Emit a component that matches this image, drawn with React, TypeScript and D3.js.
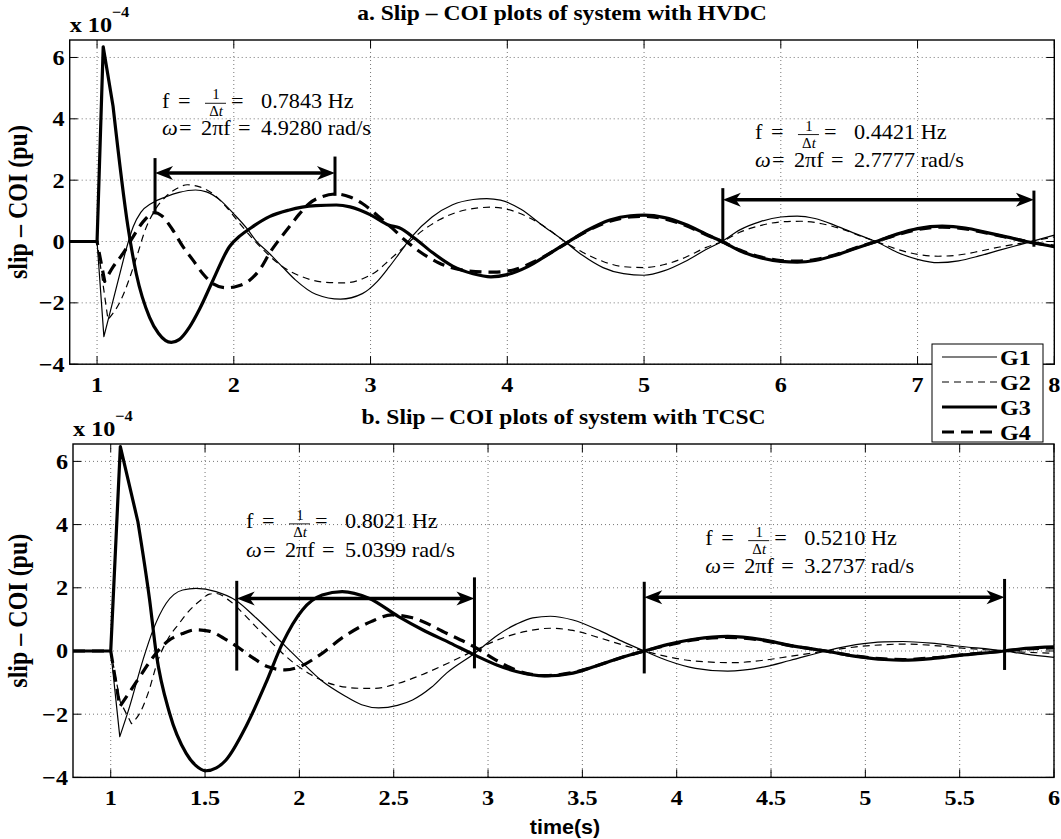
import React from "react";
import * as d3 from "d3";

type Pt = [number, number];

const SERIF = "'Liberation Serif', 'Times New Roman', Times, serif";
const SANS = "'Liberation Sans', Arial, Helvetica, sans-serif";

// ---------- tick values ----------
const hvdcXTicks = [1, 2, 3, 4, 5, 6, 7, 8];
const tcscXTicks = [1, 1.5, 2, 2.5, 3, 3.5, 4, 4.5, 5, 5.5, 6];
const yTicks = [-4, -2, 0, 2, 4, 6];
const seriesNames = ["G1", "G2", "G3", "G4"];

// ---------- a. HVDC (slip - COI, x 1e-4) ----------
const hvdcG1: Pt[] = [[0.8, 0], [1.0, 0], [1.05, -3.1], [1.205, -0.38], [1.265, 0.49], [1.32, 0.95], [1.4, 1.25], [1.5, 1.45], [1.6, 1.6], [1.72, 1.68], [1.8, 1.62], [1.9, 1.35], [2.0, 0.9], [2.1, 0.4], [2.16, 0.04], [2.26, -0.39], [2.35, -0.8], [2.45, -1.25], [2.6, -1.72], [2.78, -1.88], [2.94, -1.7], [3.05, -1.3], [3.136, -0.83], [3.21, -0.39], [3.3, 0.15], [3.45, 0.8], [3.6, 1.2], [3.75, 1.37], [3.85, 1.4], [3.95, 1.35], [4.1, 1.05], [4.25, 0.55], [4.42, 0.0], [4.55, -0.45], [4.7, -0.85], [4.85, -1.05], [5.0, -1.1], [5.15, -0.95], [5.3, -0.65], [5.45, -0.27], [5.57, 0.0], [5.7, 0.38], [5.85, 0.65], [6.0, 0.8], [6.12, 0.83], [6.25, 0.75], [6.4, 0.52], [6.55, 0.25], [6.71, -0.03], [6.85, -0.35], [7.0, -0.58], [7.15, -0.69], [7.3, -0.63], [7.45, -0.47], [7.6, -0.28], [7.75, -0.1], [7.85, 0.02], [8.0, 0.21]];
const hvdcG2: Pt[] = [[0.8, 0], [1.0, 0], [1.08, -2.55], [1.17, -1.95], [1.29, -0.5], [1.35, 0.35], [1.42, 1.0], [1.5, 1.45], [1.58, 1.72], [1.66, 1.85], [1.75, 1.78], [1.85, 1.55], [1.95, 1.1], [2.05, 0.55], [2.2, -0.2], [2.35, -0.8], [2.5, -1.15], [2.65, -1.32], [2.8, -1.35], [2.95, -1.2], [3.05, -0.95], [3.136, -0.61], [3.25, -0.15], [3.35, 0.25], [3.5, 0.7], [3.65, 0.98], [3.8, 1.1], [3.88, 1.12], [4.0, 1.05], [4.15, 0.8], [4.3, 0.4], [4.42, 0.0], [4.55, -0.35], [4.7, -0.65], [4.85, -0.82], [5.0, -0.85], [5.15, -0.75], [5.3, -0.52], [5.45, -0.2], [5.57, 0.0], [5.7, 0.3], [5.85, 0.52], [6.0, 0.64], [6.15, 0.66], [6.3, 0.58], [6.45, 0.4], [6.6, 0.15], [6.71, -0.02], [6.85, -0.25], [7.0, -0.42], [7.15, -0.48], [7.3, -0.44], [7.45, -0.32], [7.6, -0.18], [7.85, 0.02], [8.0, 0.15]];
const hvdcG3: Pt[] = [[0.8, 0], [1.0, 0], [1.045, 6.35], [1.117, 4.41], [1.226, 0.48], [1.287, -1.05], [1.384, -2.47], [1.45, -3.0], [1.543, -3.29], [1.6, -3.2], [1.676, -2.79], [1.75, -2.2], [1.847, -1.27], [1.968, -0.17], [2.05, 0.2], [2.127, 0.45], [2.26, 0.81], [2.4, 1.02], [2.5, 1.12], [2.6, 1.17], [2.75, 1.19], [2.85, 1.13], [2.92, 1.03], [3.0, 0.87], [3.136, 0.53], [3.21, 0.45], [3.33, 0.08], [3.45, -0.35], [3.6, -0.8], [3.75, -1.05], [3.88, -1.15], [4.0, -1.08], [4.15, -0.82], [4.3, -0.42], [4.45, 0.0], [4.6, 0.4], [4.75, 0.7], [4.9, 0.84], [5.0, 0.86], [5.15, 0.78], [5.3, 0.56], [5.45, 0.25], [5.57, 0.0], [5.7, -0.3], [5.85, -0.53], [6.0, -0.65], [6.12, -0.67], [6.25, -0.62], [6.4, -0.45], [6.55, -0.22], [6.71, 0.02], [6.85, 0.24], [7.0, 0.42], [7.18, 0.5], [7.35, 0.44], [7.5, 0.3], [7.65, 0.15], [7.85, -0.05], [8.0, -0.17]];
const hvdcG4: Pt[] = [[0.8, 0], [1.0, 0], [1.056, -1.3], [1.117, -0.83], [1.19, -0.39], [1.263, 0.15], [1.336, 0.64], [1.42, 0.94], [1.47, 0.85], [1.55, 0.4], [1.628, -0.17], [1.7, -0.6], [1.774, -1.05], [1.85, -1.38], [1.944, -1.51], [2.03, -1.45], [2.114, -1.27], [2.2, -0.85], [2.26, -0.39], [2.33, 0.05], [2.406, 0.48], [2.48, 0.9], [2.552, 1.24], [2.65, 1.47], [2.747, 1.55], [2.85, 1.45], [2.94, 1.24], [3.05, 0.85], [3.16, 0.43], [3.25, 0.05], [3.35, -0.3], [3.5, -0.7], [3.7, -0.95], [3.9, -1.0], [4.05, -0.92], [4.2, -0.65], [4.35, -0.28], [4.45, 0.0], [4.6, 0.38], [4.75, 0.66], [4.9, 0.8], [5.0, 0.82], [5.15, 0.74], [5.3, 0.53], [5.45, 0.23], [5.57, 0.0], [5.7, -0.28], [5.85, -0.5], [6.0, -0.62], [6.12, -0.64], [6.25, -0.59], [6.4, -0.43], [6.55, -0.2], [6.71, 0.02], [6.85, 0.22], [7.0, 0.39], [7.18, 0.47], [7.35, 0.41], [7.5, 0.28], [7.65, 0.14], [7.85, -0.04], [8.0, -0.15]];

// ---------- b. TCSC ----------
const tcscG1: Pt[] = [[0.8, 0], [1.0, 0], [1.048, -2.71], [1.1, -1.76], [1.171, -0.28], [1.224, 0.66], [1.294, 1.51], [1.382, 1.93], [1.452, 1.98], [1.558, 1.88], [1.664, 1.6], [1.77, 1.05], [1.875, 0.45], [2.0, -0.28], [2.12, -0.95], [2.235, -1.4], [2.33, -1.7], [2.42, -1.8], [2.52, -1.72], [2.6, -1.55], [2.7, -1.15], [2.78, -0.7], [2.93, -0.07], [3.05, 0.5], [3.15, 0.85], [3.237, 1.05], [3.33, 1.1], [3.45, 0.98], [3.6, 0.62], [3.72, 0.28], [3.828, 0.0], [3.95, -0.3], [4.1, -0.55], [4.27, -0.64], [4.45, -0.52], [4.6, -0.3], [4.79, 0.0], [4.95, 0.2], [5.1, 0.29], [5.2, 0.3], [5.35, 0.25], [5.5, 0.15], [5.738, 0.0], [5.85, -0.1], [6.0, -0.2]];
const tcscG2: Pt[] = [[0.8, 0], [1.0, 0], [1.05, -1.6], [1.11, -2.3], [1.16, -1.9], [1.2, -1.3], [1.25, -0.3], [1.3, 0.35], [1.36, 0.85], [1.42, 1.3], [1.48, 1.62], [1.523, 1.8], [1.56, 1.82], [1.628, 1.6], [1.7, 1.2], [1.769, 0.77], [1.84, 0.35], [1.91, -0.07], [2.05, -0.71], [2.19, -1.08], [2.33, -1.18], [2.4, -1.18], [2.526, -1.02], [2.65, -0.75], [2.8, -0.35], [2.93, 0.02], [3.05, 0.35], [3.2, 0.62], [3.33, 0.72], [3.45, 0.65], [3.6, 0.4], [3.72, 0.18], [3.828, 0.0], [3.95, -0.18], [4.1, -0.32], [4.3, -0.37], [4.45, -0.3], [4.6, -0.17], [4.79, 0.0], [4.95, 0.13], [5.1, 0.2], [5.2, 0.22], [5.35, 0.18], [5.5, 0.1], [5.738, 0.0], [5.85, -0.04], [6.0, -0.07]];
const tcscG3: Pt[] = [[0.8, 0], [1.0, 0], [1.051, 6.47], [1.144, 4.09], [1.206, 1.62], [1.241, -0.07], [1.312, -1.97], [1.4, -3.24], [1.45, -3.62], [1.505, -3.79], [1.56, -3.7], [1.611, -3.45], [1.717, -2.39], [1.822, -1.02], [1.91, 0.24], [2.016, 1.3], [2.121, 1.77], [2.227, 1.88], [2.368, 1.67], [2.526, 1.09], [2.65, 0.68], [2.8, 0.25], [2.93, -0.13], [3.05, -0.45], [3.15, -0.65], [3.3, -0.79], [3.45, -0.7], [3.6, -0.42], [3.72, -0.18], [3.828, 0.0], [3.95, 0.2], [4.1, 0.38], [4.27, 0.46], [4.45, 0.36], [4.6, 0.18], [4.79, 0.0], [4.95, -0.17], [5.1, -0.27], [5.2, -0.29], [5.35, -0.24], [5.5, -0.14], [5.738, 0.0], [5.85, 0.08], [6.0, 0.13]];
const tcscG4: Pt[] = [[0.8, 0], [1.0, 0], [1.048, -1.76], [1.1, -1.3], [1.15, -0.85], [1.2, -0.4], [1.25, 0.0], [1.3, 0.3], [1.38, 0.55], [1.45, 0.67], [1.52, 0.63], [1.6, 0.4], [1.67, 0.14], [1.75, -0.2], [1.834, -0.5], [1.925, -0.6], [2.0, -0.5], [2.107, -0.13], [2.235, 0.45], [2.38, 0.93], [2.49, 1.14], [2.6, 1.05], [2.78, 0.56], [2.93, 0.12], [3.04, -0.28], [3.146, -0.6], [3.3, -0.78], [3.45, -0.68], [3.6, -0.42], [3.72, -0.18], [3.828, 0.0], [3.95, 0.18], [4.1, 0.36], [4.27, 0.43], [4.45, 0.34], [4.6, 0.17], [4.79, 0.0], [4.95, -0.16], [5.1, -0.25], [5.2, -0.27], [5.35, -0.22], [5.5, -0.13], [5.738, 0.0], [5.85, 0.06], [6.0, 0.1]];

// ---------- period annotations ----------
const hvdcArrows = [
  { t1: 1.424, t2: 2.74, lo1: 0.92, hi1: 2.72, lo2: 1.49, hi2: 2.77, v: 2.23 },
  { t1: 5.576, t2: 7.851, lo1: -0.06, hi1: 1.74, lo2: -0.17, hi2: 1.66, v: 1.36 },
];
const tcscArrows = [
  { t1: 1.668, t2: 2.928, lo1: -0.62, hi1: 2.22, lo2: -0.55, hi2: 2.33, v: 1.66 },
  { t1: 3.828, t2: 5.738, lo1: -0.71, hi1: 2.19, lo2: -0.6, hi2: 2.28, v: 1.7 },
];
const hvdcNotes = [
  { t: 1.475, v1: 4.36, v2: 3.48, f: "0.7843 Hz", w: "4.9280 rad/s" },
  { t: 5.811, v1: 3.34, v2: 2.44, f: "0.4421 Hz", w: "2.7777 rad/s" },
];
const tcscNotes = [
  { t: 1.717, v1: 3.88, v2: 2.98, f: "0.8021 Hz", w: "5.0399 rad/s" },
  { t: 4.151, v1: 3.35, v2: 2.46, f: "0.5210 Hz", w: "3.2737 rad/s" },
];

const STYLES = [
  { w: 1.2, dash: undefined as string | undefined },
  { w: 1.2, dash: "7 5" },
  { w: 3.2, dash: undefined as string | undefined },
  { w: 3.2, dash: "12 7" },
];

function T(props: any) {
  const { x, y, anchor = "start", size = 22, sx = 1.1, weight = "bold", family = SERIF, children, italic, rot } = props;
  return (
    <text
      transform={`translate(${x},${y}) scale(${sx},1)${rot ? ` rotate(${rot})` : ""}`}
      textAnchor={anchor}
      fontSize={size}
      fontWeight={weight}
      fontFamily={family}
      fontStyle={italic ? "italic" : "normal"}
      fill="#000"
    >
      {children}
    </text>
  );
}

function buildPath(pts: Pt[], sharp: number, x: any, y: any) {
  const lin = d3.line<Pt>().x((p) => x(p[0])).y((p) => y(p[1]));
  const mono = d3.line<Pt>().x((p) => x(p[0])).y((p) => y(p[1])).curve(d3.curveMonotoneX);
  const a = pts.filter((p) => p[0] <= sharp);
  const b = pts.filter((p) => p[0] >= sharp);
  const pa = lin(a) || "";
  const pb = b.length > 1 ? (mono(b) || "").replace(/^M/, "L") : "";
  return pa + pb;
}

function Panel(props: any) {
  const { series, sharp, xDomain, yDomain, box, xTicks, title, arrows, notes } = props;
  const x = d3.scaleLinear().domain(xDomain).range([box.left, box.right]);
  const y = d3.scaleLinear().domain(yDomain).range([box.bottom, box.top]);
  const tl = 8;
  const cx = (box.left + box.right) / 2;
  const cy = (box.top + box.bottom) / 2;
  const HL = 18, HW = 7;
  return (
    <g>
      <g stroke="#666" strokeWidth={0.9} strokeDasharray="1 3">
        {xTicks.map((t: number) => (
          <line key={"gx" + t} x1={x(t)} x2={x(t)} y1={box.top} y2={box.bottom} />
        ))}
        {yTicks.map((t: number) => (
          <line key={"gy" + t} x1={box.left} x2={box.right} y1={y(t)} y2={y(t)} />
        ))}
      </g>
      <g stroke="#000" strokeWidth={1}>
        {xTicks.map((t: number) => (
          <g key={"tx" + t}>
            <line x1={x(t)} x2={x(t)} y1={box.bottom} y2={box.bottom - tl} />
            <line x1={x(t)} x2={x(t)} y1={box.top} y2={box.top + tl} />
          </g>
        ))}
        {yTicks.map((t: number) => (
          <g key={"ty" + t}>
            <line x1={box.left} x2={box.left + tl} y1={y(t)} y2={y(t)} />
            <line x1={box.right} x2={box.right - tl} y1={y(t)} y2={y(t)} />
          </g>
        ))}
      </g>
      <g fill="none" stroke="#000" strokeLinejoin="round">
        {series.map((s: Pt[], i: number) => (
          <path key={"s" + i} d={buildPath(s, sharp[i], x, y)} strokeWidth={STYLES[i].w} strokeDasharray={STYLES[i].dash} />
        ))}
      </g>
      {arrows.map((a: any, i: number) => {
        const x1 = x(a.t1), x2 = x(a.t2), ya = y(a.v);
        return (
          <g key={"a" + i}>
            <line x1={x1} x2={x1} y1={y(a.lo1)} y2={y(a.hi1)} stroke="#000" strokeWidth={3} />
            <line x1={x2} x2={x2} y1={y(a.lo2)} y2={y(a.hi2)} stroke="#000" strokeWidth={3} />
            <line x1={x1 + HL * 0.6} x2={x2 - HL * 0.6} y1={ya} y2={ya} stroke="#000" strokeWidth={3.5} />
            <path d={`M${x1},${ya} L${x1 + HL},${ya - HW} L${x1 + HL * 0.72},${ya} L${x1 + HL},${ya + HW} Z`} fill="#000" />
            <path d={`M${x2},${ya} L${x2 - HL},${ya - HW} L${x2 - HL * 0.72},${ya} L${x2 - HL},${ya + HW} Z`} fill="#000" />
          </g>
        );
      })}
      {notes.map((n: any, i: number) => {
        const x0 = x(n.t), b1 = y(n.v1), b2 = y(n.v2);
        const F = { weight: "normal", size: 21, sx: 1.06 };
        return (
          <g key={"n" + i}>
            <T x={x0} y={b1} {...F}>f</T>
            <T x={x0 + 16} y={b1} {...F}>=</T>
            <T x={x0 + 54} y={b1 - 8.5} anchor="middle" weight="normal" size={14} sx={1.06}>1</T>
            <line x1={x0 + 43} x2={x0 + 64} y1={b1 - 4.5} y2={b1 - 4.5} stroke="#000" strokeWidth={0.9} />
            <T x={x0 + 54} y={b1 + 8.5} anchor="middle" weight="normal" size={14} sx={1.06}>Δ<tspan fontStyle="italic">t</tspan></T>
            <T x={x0 + 69} y={b1} {...F}>=</T>
            <T x={x0 + 99} y={b1} {...F}>{n.f}</T>
            <T x={x0} y={b2} {...F} italic>ω</T>
            <T x={x0 + 17} y={b2} {...F}>=</T>
            <T x={x0 + 39} y={b2} {...F}>2πf</T>
            <T x={x0 + 76} y={b2} {...F}>=</T>
            <T x={x0 + 99} y={b2} {...F}>{n.w}</T>
          </g>
        );
      })}
      <rect x={box.left} y={box.top} width={box.right - box.left} height={box.bottom - box.top} fill="none" stroke="#000" strokeWidth={1.4} />
      {xTicks.map((t: number) => (
        <T key={"lx" + t} x={x(t)} y={box.bottom + 28} anchor="middle">{String(t)}</T>
      ))}
      {yTicks.map((t: number) => (
        <T key={"ly" + t} x={box.left - 5} y={y(t) + 7.5} anchor="end">{t < 0 ? "\u2212" + Math.abs(t) : String(t)}</T>
      ))}
      <T x={box.left} y={box.top - 8}>x 10</T>
      <T x={box.left + 42} y={box.top - 23} size={15}>{"\u22124"}</T>
      <T x={cx} y={box.top - 20} anchor="middle" size={22} sx={1.07}>{title}</T>
      <T x={27} y={cy} anchor="middle" size={24} sx={1.12} rot={-90}>slip – COI (pu)</T>
    </g>
  );
}

export default function App() {
  const topBox = { left: 69.7, right: 1054.3, top: 40, bottom: 364.2 };
  const botBox = { left: 73, right: 1054, top: 444, bottom: 777.4 };
  const legendRows = [357, 382, 407, 432];
  return (
    <svg width={1061} height={839} style={{ position: "absolute", left: 0, top: 0, background: "#fff" }}>
      <rect x={0} y={0} width={1061} height={839} fill="#fff" />
      <Panel
        series={[hvdcG1, hvdcG2, hvdcG3, hvdcG4]}
        sharp={[1.205, 1.08, 1.117, 1.056]}
        xDomain={[0.8, 8]}
        yDomain={[-4, 6.57]}
        box={topBox}
        xTicks={hvdcXTicks}
        title="a. Slip – COI plots of system with HVDC"
        arrows={hvdcArrows}
        notes={hvdcNotes}
      />
      <Panel
        series={[tcscG1, tcscG2, tcscG3, tcscG4]}
        sharp={[1.048, 1.11, 1.144, 1.048]}
        xDomain={[0.8, 6]}
        yDomain={[-4, 6.55]}
        box={botBox}
        xTicks={tcscXTicks}
        title="b. Slip – COI plots of system with TCSC"
        arrows={tcscArrows}
        notes={tcscNotes}
      />
      <T x={565} y={834} anchor="middle" family={SANS} size={19.5} sx={1.1}>time(s)</T>
      <g>
        <rect x={932} y={344} width={111} height={98} fill="#fff" stroke="#000" strokeWidth={1} />
        {seriesNames.map((nm, i) => (
          <g key={nm}>
            <line x1={942} x2={997} y1={legendRows[i]} y2={legendRows[i]} stroke="#000" strokeWidth={STYLES[i].w} strokeDasharray={STYLES[i].dash} />
            <T x={1000} y={legendRows[i] + 7.5}>{nm}</T>
          </g>
        ))}
      </g>
    </svg>
  );
}
